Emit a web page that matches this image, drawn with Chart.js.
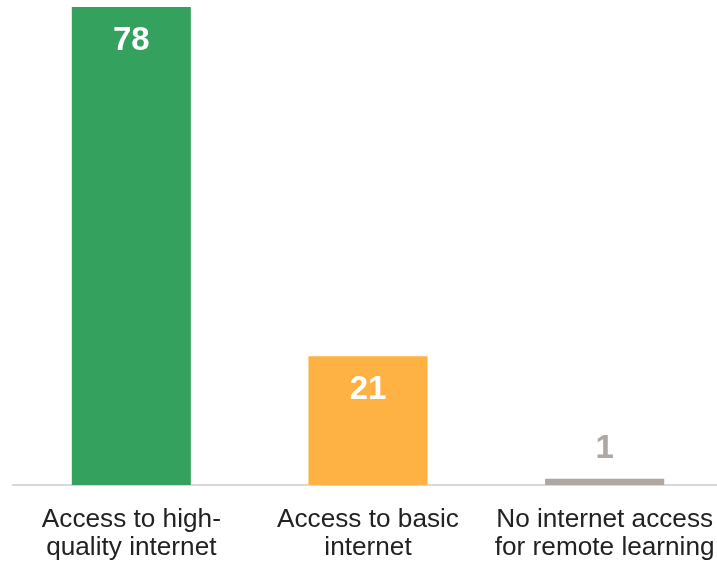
<!DOCTYPE html>
<html>
<head>
<meta charset="utf-8">
<script src="https://cdn.jsdelivr.net/npm/chart.js@4.4.0/dist/chart.umd.min.js"></script>
<style>
  html, body { margin: 0; padding: 0; background: #ffffff; overflow: hidden; }
  #wrap { position: relative; width: 740px; height: 562px; }
</style>
</head>
<body>
<div id="wrap"><canvas id="c" width="740" height="562"></canvas></div>
<script>
const categories = [
  ["Access to high-", "quality internet"],
  ["Access to basic", "internet"],
  ["No internet access", "for remote learning"]
];
const values = [78, 21, 1];
const barColors = ["#35A15F", "#FDB243", "#AEA7A2"];

const valueLabelPlugin = {
  id: "valueLabels",
  afterDatasetsDraw(chart) {
    const ctx = chart.ctx;
    const meta = chart.getDatasetMeta(0);
    ctx.save();
    ctx.font = "bold 33px 'Liberation Sans', Arial, sans-serif";
    ctx.textAlign = "center";
    ctx.textBaseline = "middle";
    meta.data.forEach((bar, i) => {
      const h = bar.base - bar.y;
      if (h > 60) {
        ctx.fillStyle = "#ffffff";
        ctx.fillText(String(values[i]), bar.x, bar.y + 34);
      } else {
        ctx.fillStyle = "#AEA7A2";
        ctx.fillText(String(values[i]), bar.x, bar.y - 30);
      }
    });
    ctx.restore();
  }
};

new Chart(document.getElementById("c"), {
  type: "bar",
  data: {
    labels: categories,
    datasets: [{
      data: values,
      backgroundColor: barColors,
      borderWidth: 0,
      categoryPercentage: 1,
      barPercentage: 0.503
    }]
  },
  options: {
    responsive: false,
    animation: false,
    devicePixelRatio: 1,
    layout: { padding: { top: 7, left: 13, right: 17, bottom: 0 } },
    plugins: { legend: { display: false }, tooltip: { enabled: false } },
    scales: {
      y: { display: false, min: 0, max: 78 },
      x: {
        grid: { display: false, drawTicks: false },
        border: { display: true, color: "#D9D9D9", width: 2 },
        ticks: {
          color: "#222222",
          padding: 20,
          maxRotation: 0,
          autoSkip: false,
          font: { family: "'Liberation Sans', Arial, sans-serif", size: 26.2, lineHeight: 1.1 }
        },
        afterFit(scale) { scale.height = 77; }
      }
    }
  },
  plugins: [valueLabelPlugin]
});
</script>
</body>
</html>
